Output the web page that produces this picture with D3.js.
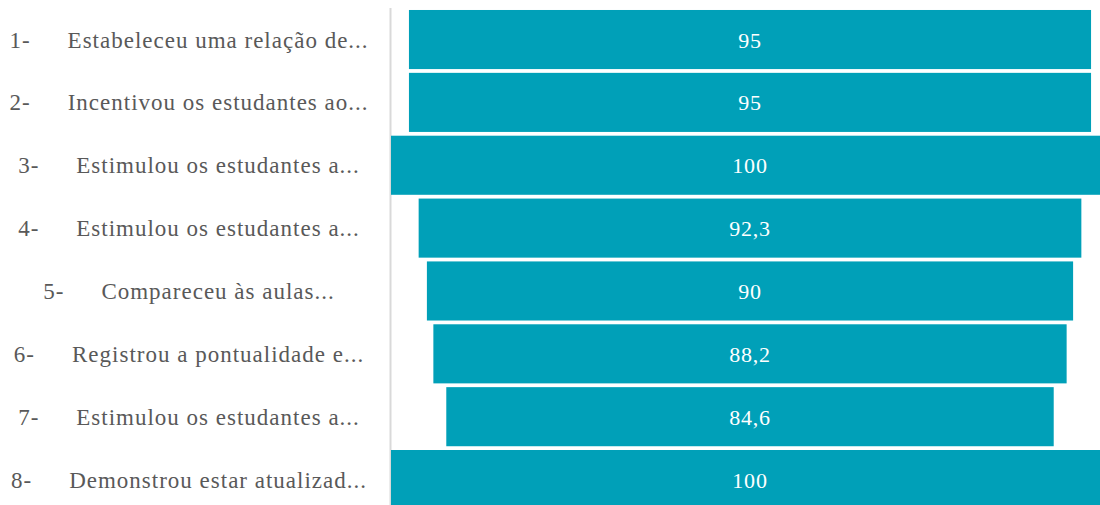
<!DOCTYPE html>
<html>
<head>
<meta charset="utf-8">
<script src="https://cdn.jsdelivr.net/npm/d3@7"></script>
<style>
  html, body { margin: 0; padding: 0; background: #ffffff; }
  svg { display: block; }
  .lbl { font-family: "Liberation Serif", "DejaVu Serif", serif; font-variant-numeric: oldstyle-nums; }
</style>
</head>
<body>
<svg id="chart" width="1100" height="505"></svg>
<script>
// Item numbers, item texts and percentages for each row
const itemNumbers = ["1-", "2-", "3-", "4-", "5-", "6-", "7-", "8-"];
const itemTexts = [
  "Estabeleceu uma relação de...",
  "Incentivou os estudantes ao...",
  "Estimulou os estudantes a...",
  "Estimulou os estudantes a...",
  "Compareceu às aulas...",
  "Registrou a pontualidade e...",
  "Estimulou os estudantes a...",
  "Demonstrou estar atualizad..."
];
const values = [95, 95, 100, 92.3, 90, 88.2, 84.6, 100];

const svg = d3.select("#chart");
const W = 1100, H = 505;

// Decimal comma formatting (pt-BR)
const locale = d3.formatLocale({ decimal: ",", thousands: ".", grouping: [3], currency: ["R$", ""] });
const fmt = locale.format("~r");

const rows = itemTexts.map((t, i) => ({ num: itemNumbers[i], text: t, value: values[i] }));

// Bars are centred on one axis: half of each value on either side
const x = d3.scaleLinear().domain([-50, 50]).range([391, 1109]);
const y = d3.scaleBand()
  .domain(d3.range(rows.length))
  .range([8.1, 8.1 + rows.length * 62.86])
  .paddingInner(0.06)
  .paddingOuter(0.03);

// Category axis line
svg.append("line")
  .attr("x1", 390.5).attr("x2", 390.5)
  .attr("y1", 8).attr("y2", H)
  .attr("stroke", "#d9d9d9")
  .attr("stroke-width", 2);

// Funnel bars
svg.append("g").selectAll("rect")
  .data(rows)
  .join("rect")
  .attr("x", d => x(-d.value / 2))
  .attr("width", d => x(d.value / 2) - x(-d.value / 2))
  .attr("y", (d, i) => y(i))
  .attr("height", y.bandwidth())
  .attr("fill", "#00a0b8");

// Value labels
svg.append("g").selectAll("text")
  .data(rows)
  .join("text")
  .attr("class", "lbl")
  .attr("x", x(0))
  .attr("y", (d, i) => y(i) + y.bandwidth() / 2 + 8)
  .attr("text-anchor", "middle")
  .attr("fill", "#ffffff")
  .attr("font-size", 22)
  .attr("letter-spacing", 0.8)
  .text(d => fmt(d.value));

// Category labels: number, gap, item text; centred as a whole
const cat = svg.append("g").selectAll("text")
  .data(rows)
  .join("text")
  .attr("class", "lbl")
  .attr("x", 189)
  .attr("y", (d, i) => y(i) + y.bandwidth() / 2 + 8)
  .attr("text-anchor", "middle")
  .attr("fill", "#595959")
  .attr("font-size", 23)
  .attr("letter-spacing", 1);
cat.append("tspan").text(d => d.num);
cat.append("tspan").attr("dx", 37).text(d => d.text);
</script>
</body>
</html>
